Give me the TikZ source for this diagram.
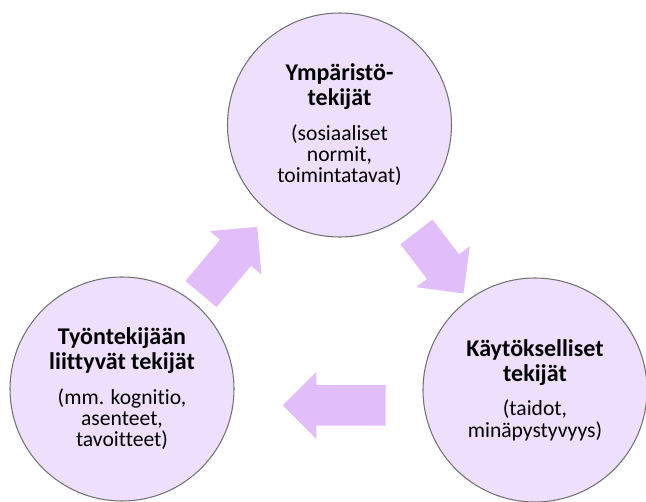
\documentclass[tikz,border=0pt]{standalone}
\usepackage{fontspec}
\setmainfont{Carlito}[Ligatures=CommonOff]
\usetikzlibrary{shapes.arrows}
\definecolor{factorfill}{RGB}{238,224,252}
\definecolor{flowfill}{RGB}{225,190,250}
\newcommand{\factortitle}[1]{{\fontsize{18pt}{16pt}\selectfont\bfseries #1}}
\begin{document}
\begin{tikzpicture}[x=0.75pt,y=-0.75pt]
\tikzset{
  factor/.style={draw=black!55,line width=0.8pt,fill=factorfill,shape=circle,minimum size=168pt,inner sep=0pt,align=center,font=\fontsize{16.2pt}{16pt}\selectfont},
  flow/.style={shape=single arrow,fill=flowfill,draw=none,inner xsep=0pt,inner ysep=15pt,single arrow head extend=10.1pt,single arrow tip angle=90,anchor=tail}
}
\useasboundingbox (0,0) rectangle (646,502);
\node[factor] (env) at (339.5,125) {\factortitle{Ympäristö-}\\[2.5pt]\factortitle{tekijät}\\[10pt](sosiaaliset\\normit,\\toimintatavat)};
\node[factor] (beh) at (535,390) {\factortitle{Käytökselliset}\\[2.5pt]\factortitle{tekijät}\\[10pt](taidot,\\minäpystyvyys)};
\node[factor] (emp) at (122,389) {\factortitle{Työntekijään}\\[2.5pt]\factortitle{liittyvät tekijät}\\[10pt](mm. kognitio,\\asenteet,\\tavoitteet)};
\node[flow,minimum height=65.7pt,rotate=50] (emp2env) at (200.8,294.2) {};
\node[flow,minimum height=58.1pt,rotate=-52.6] (env2beh) at (416.3,231.7) {};
\node[flow,minimum height=77.25pt,rotate=180] (beh2emp) at (386,405.3) {};
\end{tikzpicture}
\end{document}
